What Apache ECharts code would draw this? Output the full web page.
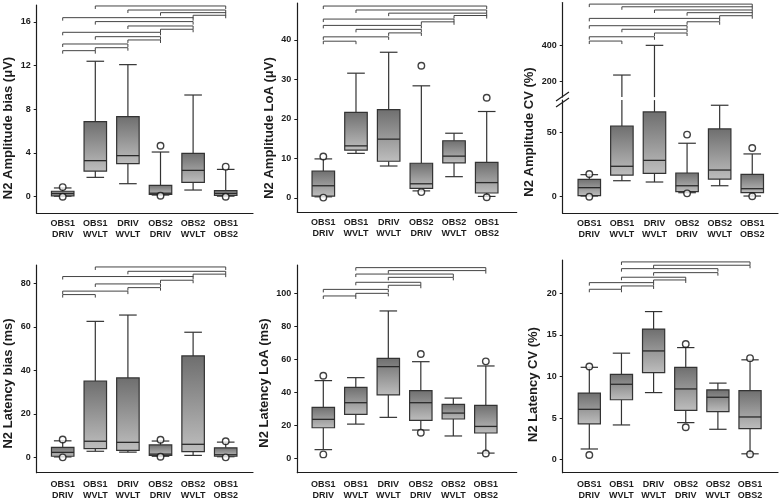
<!DOCTYPE html>
<html><head><meta charset="utf-8">
<script src="https://cdn.jsdelivr.net/npm/echarts@6/dist/echarts.min.js"></script>
<style>html,body{margin:0;padding:0;background:#fff}#c{width:780px;height:499px}</style>
</head><body><div id="c"></div>
<script>
const categories = ['OBS1\nDRIV','OBS1\nWVLT','DRIV\nWVLT','OBS2\nDRIV','OBS2\nWVLT','OBS1\nOBS2'];

// Box statistics per comparison: [lower whisker, Q1, median, Q3, upper whisker]
const ampBiasStats = [
  [0.05, 0.08, 0.28, 0.5, 0.8],
  [1.77, 2.35, 3.3, 6.87, 12.4],
  [1.19, 3.02, 3.76, 7.33, 12.09],
  [0.15, 0.22, 0.32, 1.04, 4.09],
  [0.61, 1.31, 2.41, 3.97, 9.31],
  [0.05, 0.12, 0.3, 0.55, 2.5]
];
const ampBiasOutliers = [[1,0.88],[1,0.0],[4,4.67],[4,0.08],[6,2.75],[6,0.0]];
const ampBiasBrackets = [[2,6,17.46],[3,6,17.09],[4,6,16.85],[5,6,16.61],[1,5,16.39],[2,5,16.03],[3,5,15.63],[4,5,15.33],[1,4,15.05],[2,4,14.65],[3,4,14.35],[1,3,13.98],[2,3,13.64],[1,2,13.37]];
const ampBiasTicks = [0,4,8,12,16];

const ampLoAStats = [
  [0.3, 0.45, 3.1, 6.84, 9.9],
  [11.3, 12.1, 13.2, 21.7, 31.6],
  [8.1, 9.3, 14.9, 22.4, 36.9],
  [1.8, 2.45, 3.6, 8.8, 28.4],
  [5.4, 8.9, 10.6, 14.5, 16.4],
  [0.4, 1.27, 3.9, 9.0, 21.9]
];
const ampLoAOutliers = [[1,10.5],[1,0.1],[4,33.5],[4,1.5],[6,25.4],[6,0.2]];
const ampLoABrackets = [[1,6,48.6],[2,6,47.6],[3,6,46.8],[5,6,46.2],[1,5,45.3],[4,5,44.6],[1,4,43.7],[2,4,42.7],[3,4,41.8],[1,3,40.8],[1,2,39.7]];
const ampLoATicks = [0,10,20,30,40];

const ampCVStats = [
  [0.5, 0.8, 7.0, 13.5, 17.1],
  [12.4, 16.8, 23.6, 54.9, 233.6],
  [11.4, 18.1, 28.2, 65.8, 400],
  [3.1, 3.9, 8.5, 18.4, 41.5],
  [8.5, 13.7, 20.7, 52.6, 71],
  [0.5, 3.1, 6.2, 17.4, 33.2]
];
const ampCVOutliers = [[1,17.6],[1,0.0],[4,48.2],[4,2.6],[6,37.8],[6,0.3]];
const ampCVBrackets = [[1,6,631],[2,6,616],[3,6,598],[4,6,583],[5,6,566],[1,5,551],[4,5,532],[1,4,510],[2,4,490],[3,4,469],[1,3,448],[1,2,424]];
const ampCVTicksLow = [0,50];
const ampCVTicksHigh = [200,400];

const latBiasStats = [
  [0.2, 0.5, 2.3, 4.6, 7.6],
  [2.8, 4.0, 7.4, 35.1, 62.5],
  [2.4, 3.2, 6.9, 36.5, 65.4],
  [0.5, 0.9, 1.5, 5.7, 7.5],
  [0.9, 2.6, 6.0, 46.6, 57.5],
  [0.3, 0.5, 1.2, 4.4, 7.0]
];
const latBiasOutliers = [[1,8.2],[1,0.0],[4,8.1],[4,0.3],[6,7.4],[6,0.0]];
const latBiasBrackets = [[2,6,87.5],[3,6,85.5],[5,6,84.2],[1,5,83.1],[4,5,81.4],[2,4,79.7],[3,4,78.0],[1,3,76.4],[1,2,74.8]];
const latBiasTicks = [0,20,40,60,80];

const latLoAStats = [
  [5.1, 18.4, 23.5, 30.8, 47],
  [20.6, 26.5, 33.6, 42.9, 48.8],
  [24.7, 38.3, 55.5, 60.5, 89.3],
  [17.0, 22.9, 33.6, 40.9, 58.5],
  [13.4, 23.7, 27.3, 32.6, 36.4],
  [3.0, 15.2, 19.2, 32.0, 55.9]
];
const latLoAOutliers = [[1,50],[1,2.2],[4,63.2],[4,15.4],[6,58.7],[6,2.8]];
const latLoABrackets = [[2,6,115.6],[3,6,113.8],[2,5,111.7],[3,5,109.7],[2,4,106.7],[3,4,104.9],[1,3,102.4],[2,3,100],[1,2,98.4]];
const latLoATicks = [0,20,40,60,80,100];

const latCVStats = [
  [1.28, 4.3, 6.05, 8.0, 11.1],
  [4.17, 7.2, 9.06, 10.26, 12.8],
  [8.06, 10.46, 13.07, 15.7, 17.8],
  [4.45, 5.93, 8.5, 11.1, 13.47],
  [3.65, 5.77, 7.5, 8.38, 9.2],
  [0.7, 3.73, 5.13, 8.3, 12.0]
];
const latCVOutliers = [[1,11.2],[1,0.56],[4,13.9],[4,3.9],[6,12.2],[6,0.65]];
const latCVBrackets = [[2,6,23.77],[3,6,23.37],[2,5,22.96],[3,5,22.48],[2,4,21.93],[3,4,21.6],[1,3,21.28],[2,3,20.88],[1,2,20.48]];
const latCVTicks = [0,5,10,15,20];

const yNames = ['N2 Amplitude bias (μV)','N2 Amplitude LoA (μV)','N2 Amplitude CV (%)','N2 Latency bias (ms)','N2 Latency LoA (ms)','N2 Latency CV (%)'];

// ---- layout / styling ----
const FONT = 'Liberation Sans';
const INK = '#1c1c1c';
const layout = [
  {l:36.7,t:5,r:253,b:213.3,xmin:0.2025,xmax:6.837,ymin:-1.52,ymax:17.55,lm:5},
  {l:297.3,t:3,r:516.7,b:212.3,xmin:0.204,xmax:6.918,ymin:-3.62,ymax:49.37,lm:5},
  {l:562.7,t:100.1,r:778,b:213.3,xmin:0.184,xmax:6.79,ymin:-12.9,ymax:75,lm:5},
  {l:562.7,t:2.5,r:778,b:97.1,xmin:0.184,xmax:6.79,ymin:110,ymax:640,lm:5},
  {l:36.7,t:265,r:253,b:472.7,xmin:0.2025,xmax:6.837,ymin:-7.05,ymax:88.4,lm:6},
  {l:297.3,t:265,r:516.7,b:472.7,xmin:0.2,xmax:6.95,ymin:-8.9,ymax:117.2,lm:6},
  {l:562.7,t:260,r:778,b:472.7,xmin:0.172,xmax:6.87,ymin:-1.57,ymax:24.0,lm:6}
];
const panels = [
  {stats:ampBiasStats, out:ampBiasOutliers, br:ampBiasBrackets, ticks:ampBiasTicks, xlab:true},
  {stats:ampLoAStats, out:ampLoAOutliers, br:ampLoABrackets, ticks:ampLoATicks, xlab:true},
  {stats:ampCVStats, out:ampCVOutliers, br:null, ticks:ampCVTicksLow, xlab:true},
  {stats:ampCVStats, out:null, br:ampCVBrackets, ticks:ampCVTicksHigh, xlab:false},
  {stats:latBiasStats, out:latBiasOutliers, br:latBiasBrackets, ticks:latBiasTicks, xlab:true},
  {stats:latLoAStats, out:latLoAOutliers, br:latLoABrackets, ticks:latLoATicks, xlab:true},
  {stats:latCVStats, out:latCVOutliers, br:latCVBrackets, ticks:latCVTicks, xlab:true}
];
const namePos = [[8,128],[269,128],[529.5,132],[8,383.5],[264,383],[533,384.5]];

function boxFill(){
  return new echarts.graphic.LinearGradient(0,0,0,1,[{offset:0,color:'#6e6e6e'},{offset:1,color:'#bebebe'}]);
}
function renderBox(params, api){
  const x = api.value(0);
  const v = [1,2,3,4,5].map(d => api.value(d));
  const cs = params.coordSys;
  const top = cs.y, bot = cs.y + cs.height;
  const unit = api.size([1,0])[0];
  const hb = unit*0.345, hc = unit*0.27;
  const cx = api.coord([x, 0])[0];
  const py = v.map(val => api.coord([x, val])[1]);
  const cl = y => Math.max(top, Math.min(bot, y));
  const inR = y => y >= top-0.01 && y <= bot+0.01;
  const ls = {stroke:'#333', lineWidth:1.2};
  const ch = [];
  let a = cl(py[0]), b = cl(py[1]);
  if (Math.abs(a-b) > 0.1) ch.push({type:'line', shape:{x1:cx,y1:a,x2:cx,y2:b}, style:ls});
  if (inR(py[0])) ch.push({type:'line', shape:{x1:cx-hc,y1:py[0],x2:cx+hc,y2:py[0]}, style:ls});
  a = cl(py[3]); b = cl(py[4]);
  if (Math.abs(a-b) > 0.1) ch.push({type:'line', shape:{x1:cx,y1:a,x2:cx,y2:b}, style:ls});
  if (inR(py[4])) ch.push({type:'line', shape:{x1:cx-hc,y1:py[4],x2:cx+hc,y2:py[4]}, style:ls});
  const bt = cl(py[3]), bb = cl(py[1]);
  if (bb - bt > 0.1) ch.push({type:'rect', shape:{x:cx-hb, y:bt, width:2*hb, height:bb-bt}, style:{fill:boxFill(), stroke:'#333', lineWidth:1.2}});
  if (inR(py[2])) ch.push({type:'line', shape:{x1:cx-hb,y1:py[2],x2:cx+hb,y2:py[2]}, style:{stroke:'#2a2a2a', lineWidth:1.3}});
  return {type:'group', children:ch};
}
function renderBracket(params, api){
  const y = api.value(2);
  const p1 = api.coord([api.value(0), y]), p2 = api.coord([api.value(1), y]);
  return {type:'polyline', shape:{points:[[p1[0],p1[1]+3],[p1[0],p1[1]],[p2[0],p2[1]],[p2[0],p2[1]+3]]}, style:{stroke:'#444', lineWidth:1, fill:null}};
}

const grid = [], xAxis = [], yAxis = [], series = [];
layout.forEach((L, i) => {
  const P = panels[i];
  grid.push({left:L.l, top:L.t, width:L.r-L.l, height:L.b-L.t, outerBoundsMode:'none'});
  xAxis.push({
    type:'value', gridIndex:i, min:L.xmin, max:L.xmax,
    axisLine:{show:P.xlab, onZero:false, lineStyle:{color:INK, width:1.2}},
    axisTick:{show:false}, splitLine:{show:false},
    axisLabel:{show:P.xlab, customValues:[1,2,3,4,5,6], formatter:v => categories[Math.round(v)-1] || '',
      fontFamily:FONT, fontWeight:'bold', fontSize:9, lineHeight:11, color:INK, margin:L.lm}
  });
  yAxis.push({
    type:'value', gridIndex:i, min:L.ymin, max:L.ymax,
    axisLine:{show:true, onZero:false, lineStyle:{color:INK, width:1.2}},
    axisTick:{show:true, length:3, customValues:P.ticks, lineStyle:{color:INK, width:1}},
    splitLine:{show:false},
    axisLabel:{customValues:P.ticks, fontFamily:FONT, fontWeight:'bold', fontSize:9, color:INK, margin:6}
  });
  series.push({
    type:'custom', xAxisIndex:i, yAxisIndex:i, clip:false, z:2,
    data:P.stats.map((s,k) => [k+1].concat(s)),
    encode:{x:0, y:[1,2,3,4,5]}, renderItem:renderBox
  });
  if (P.out) series.push({
    type:'scatter', xAxisIndex:i, yAxisIndex:i, z:5, symbol:'circle', symbolSize:6.5,
    itemStyle:{color:'#fff', borderColor:'#111', borderWidth:1.4},
    data:P.out.map(o => [o[0], o[1]])
  });
  if (P.br) series.push({
    type:'custom', xAxisIndex:i, yAxisIndex:i, clip:false, z:3,
    data:P.br, encode:{x:[0,1], y:2}, renderItem:renderBracket
  });
});

const graphic = yNames.map((t,i) => ({
  type:'text', x:namePos[i][0], y:namePos[i][1], rotation:Math.PI/2, z:10,
  style:{text:t, fontFamily:FONT, fontWeight:'bold', fontSize:13, fill:INK, align:'center', verticalAlign:'middle'}
}));
// axis break marks on the third panel
graphic.push({type:'line', shape:{x1:556,y1:101,x2:569,y2:92}, style:{stroke:INK, lineWidth:1.2}});
graphic.push({type:'line', shape:{x1:556,y1:107,x2:569,y2:98}, style:{stroke:INK, lineWidth:1.2}});

const chart = echarts.init(document.getElementById('c'), null, {renderer:'canvas'});
chart.setOption({animation:false, backgroundColor:'#fff', textStyle:{fontFamily:FONT}, grid, xAxis, yAxis, series, graphic});
</script></body></html>
